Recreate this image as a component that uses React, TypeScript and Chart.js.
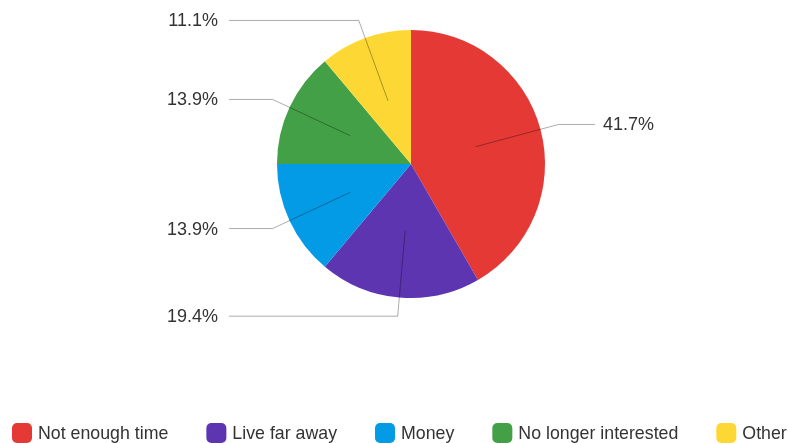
import React, { useEffect, useRef } from "react";
import { Chart, registerables } from "chart.js";

Chart.register(...registerables);

const categories = ["Not enough time", "Live far away", "Money", "No longer interested", "Other:"];
const counts = [15, 7, 5, 5, 4];
const percentLabels = ["41.7%", "19.4%", "13.9%", "13.9%", "11.1%"];
const colors = ["#E53935", "#5E35B1", "#039BE5", "#43A047", "#FDD835"];

const leaderPlugin = {
  id: "leaderLabels",
  afterDatasetsDraw(chart: any) {
    const ctx = chart.ctx;
    const meta = chart.getDatasetMeta(0);
    ctx.save();
    meta.data.forEach((arc: any, i: number) => {
      const { x, y, startAngle, endAngle, outerRadius } = arc.getProps(
        ["x", "y", "startAngle", "endAngle", "outerRadius"],
        true
      );
      const mid = (startAngle + endAngle) / 2;
      const cos = Math.cos(mid);
      const sin = Math.sin(mid);
      const x0 = x + cos * outerRadius * 0.5;
      const y0 = y + sin * outerRadius * 0.5;
      const x1 = x + cos * outerRadius * 1.14;
      const y1 = y + sin * outerRadius * 1.14;
      const right = cos >= 0;
      const x2 = right ? x + 184 : x - 182;
      ctx.beginPath();
      ctx.strokeStyle = "rgba(0,0,0,0.33)";
      ctx.lineWidth = 1;
      ctx.moveTo(x0, y0);
      ctx.lineTo(x1, y1);
      ctx.lineTo(x2, y1);
      ctx.stroke();
      ctx.fillStyle = "#333333";
      ctx.font = '18px "Liberation Sans", Arial, sans-serif';
      ctx.textBaseline = "middle";
      ctx.textAlign = right ? "left" : "right";
      ctx.fillText(percentLabels[i], right ? x + 192 : x - 193, y1 + 1);
    });
    ctx.restore();
  },
};

const legendPlugin = {
  id: "customLegend",
  afterDraw(chart: any) {
    const ctx = chart.ctx;
    ctx.save();
    ctx.font = '19px "Liberation Sans", Arial, sans-serif';
    ctx.textBaseline = "middle";
    ctx.textAlign = "left";
    const sx = 0.935;
    let px = 12;
    const top = 423;
    chart.data.labels.forEach((label: string, i: number) => {
      ctx.fillStyle = chart.data.datasets[0].backgroundColor[i];
      ctx.beginPath();
      (ctx as any).roundRect(px, top, 20, 20, 5);
      ctx.fill();
      ctx.fillStyle = "#333333";
      ctx.save();
      ctx.translate(px + 26, top + 11);
      ctx.scale(sx, 1);
      ctx.fillText(label, 0, 0);
      ctx.restore();
      px += 26 + ctx.measureText(label).width * sx + 38;
    });
    ctx.restore();
  },
};

export default function App() {
  const ref = useRef<HTMLCanvasElement | null>(null);
  useEffect(() => {
    document.body.style.margin = "0";
    const chart = new Chart(ref.current!, {
      type: "pie",
      data: {
        labels: categories,
        datasets: [
          {
            data: counts,
            backgroundColor: colors,
            borderWidth: 0,
          },
        ],
      },
      options: {
        animation: false,
        responsive: false,
        maintainAspectRatio: false,
        layout: { padding: { top: 30, bottom: 145, left: 200, right: 166 } },
        plugins: {
          legend: { display: false },
          tooltip: { enabled: false },
        },
      },
      plugins: [leaderPlugin, legendPlugin],
    });
    return () => chart.destroy();
  }, []);
  return (
    <div style={{ width: 788, height: 443, overflow: "hidden" }}>
      <canvas ref={ref} width={788} height={443} style={{ display: "block" }} />
    </div>
  );
}
